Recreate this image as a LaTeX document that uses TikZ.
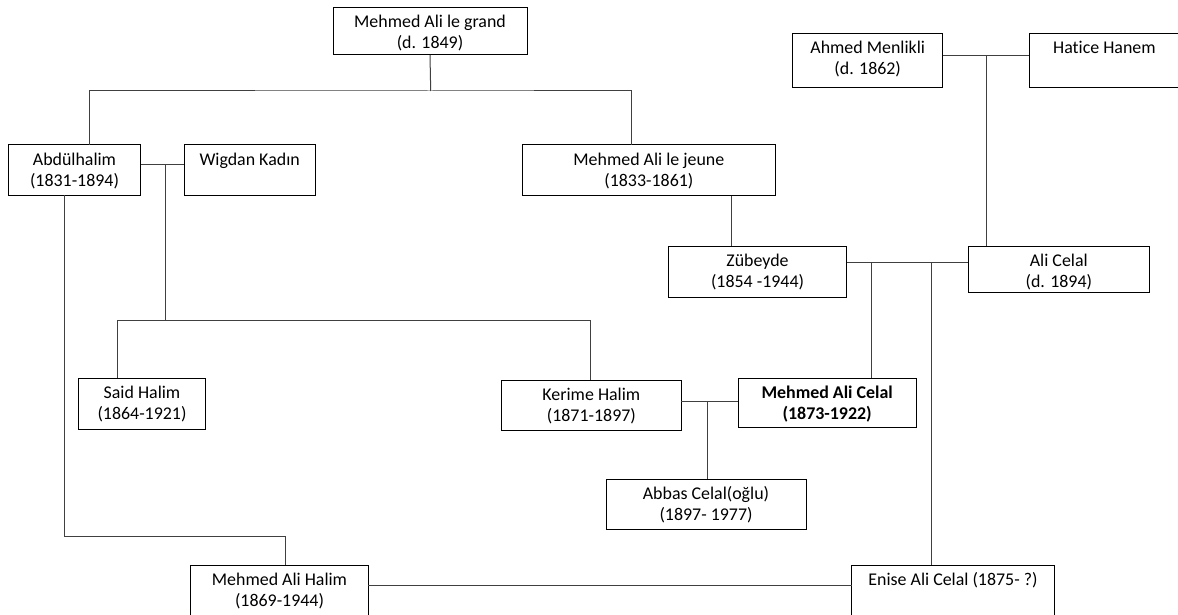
\documentclass[tikz,border=0pt]{standalone}
\usepackage{fontspec}
\setmainfont[Ligatures=NoCommon]{Carlito}
\tikzset{
  pbox/.style={draw=black, line width=1pt, fill=white, inner sep=0pt, outer sep=0pt},
  ptext/.style={anchor=base, inner sep=0pt, outer sep=0pt, font=\fontsize{17.9}{21}\selectfont},
  conn/.style={draw=black!75, line width=1pt}
}
\newcommand\person[6]{%
  \pgfmathsetmacro\pw{#4-#2}\pgfmathsetmacro\ph{#5-#3}%
  \pgfmathsetmacro\pcx{(#2+#4)/2}\pgfmathsetmacro\pcy{(#3+#5)/2}\pgfmathsetmacro\pty{#3+20}%
  \node[pbox, minimum width=\pw pt, minimum height=\ph pt] (#1) at (\pcx,\pcy) {};
  \node[ptext] (#1-t) at (\pcx,\pty) {\begin{tabular}[t]{@{}c@{}}#6\end{tabular}};%
}
\begin{document}
\begin{tikzpicture}[x=1pt,y=-1pt]
\useasboundingbox (0,0) rectangle (1178,615);
\clip (0,0) rectangle (1178,615);
\fill[white] (0,0) rectangle (1178,615);
% junction coordinates
\coordinate (j1) at (430.7,91);
\coordinate (xa) at (89.3,0);
\coordinate (xb) at (631.7,0);
\coordinate (m1) at (165,165);
\coordinate (j2) at (165,320.7);
\coordinate (xs) at (117.7,0);
\coordinate (xk) at (590,0);
\coordinate (xl) at (64.2,0);
\coordinate (j3) at (0,536);
\coordinate (xm) at (285.3,0);
\coordinate (m2) at (986.7,56);
\coordinate (xz) at (731.7,0);
\coordinate (m3) at (0,262.3);
\coordinate (xc) at (871.7,0);
\coordinate (xe) at (931.7,0);
\coordinate (m4) at (707,401);
\coordinate (m5) at (0,585.5);
% persons
\person{grand}{333}{8}{527}{55}{Mehmed Ali le grand\\(d. 1849)}
\person{ahmed}{792.7}{33.3}{942.7}{87.3}{Ahmed Menlikli\\(d. 1862)}
\person{hatice}{1029.3}{33.3}{1179.5}{87.3}{Hatice Hanem}
\person{abd}{8.3}{145}{140.7}{195}{Abdülhalim\\(1831-1894)}
\person{wig}{184.3}{145}{315}{195}{Wigdan Kadın}
\person{jeune}{522.7}{145}{775}{195.7}{Mehmed Ali le jeune\\(1833-1861)}
\person{zub}{668.3}{246}{846.7}{297.3}{Zübeyde\\(1854 -1944)}
\person{ali}{968.3}{246}{1149.3}{292.3}{Ali Celal\\(d. 1894)}
\person{said}{78.3}{378.3}{205.7}{429}{Said Halim\\(1864-1921)}
\person{kerime}{501.7}{380}{681}{430}{Kerime Halim\\(1871-1897)}
\person{mac}{738.3}{378.3}{916}{427.7}{\bfseries Mehmed Ali Celal\\\bfseries (1873-1922)}
\person{abbas}{606}{479}{806}{529}{Abbas Celal(oğlu)\\(1897- 1977)}
\person{mah}{190.7}{565}{368.3}{617}{Mehmed Ali Halim\\(1869-1944)}
\person{enise}{851.7}{565}{1054.3}{617}{Enise Ali Celal (1875- ?)}
% connectors
\draw[conn] (grand.south) -- (j1);
\draw[conn] (abd.north -| xa) |- (j1) -| (jeune.north -| xb);
\draw[conn] (abd.east |- m1) -- (wig.west |- m1);
\draw[conn] (m1) -- (j2);
\draw[conn] (said.north -| xs) |- (j2) -| (kerime.north -| xk);
\draw[conn] (abd.south -| xl) -- (xl |- j3) -| (mah.north -| xm);
\draw[conn] (ahmed.east |- m2) -- (hatice.west |- m2);
\draw[conn] (m2) -- (ali.north -| m2);
\draw[conn] (jeune.south -| xz) -- (zub.north -| xz);
\draw[conn] (zub.east |- m3) -- (ali.west |- m3);
\draw[conn] (xc |- m3) -- (mac.north -| xc);
\draw[conn] (xe |- m3) -- (enise.north -| xe);
\draw[conn] (kerime.east |- m4) -- (mac.west |- m4);
\draw[conn] (m4) -- (abbas.north -| m4);
\draw[conn] (mah.east |- m5) -- (enise.west |- m5);
\end{tikzpicture}
\end{document}
